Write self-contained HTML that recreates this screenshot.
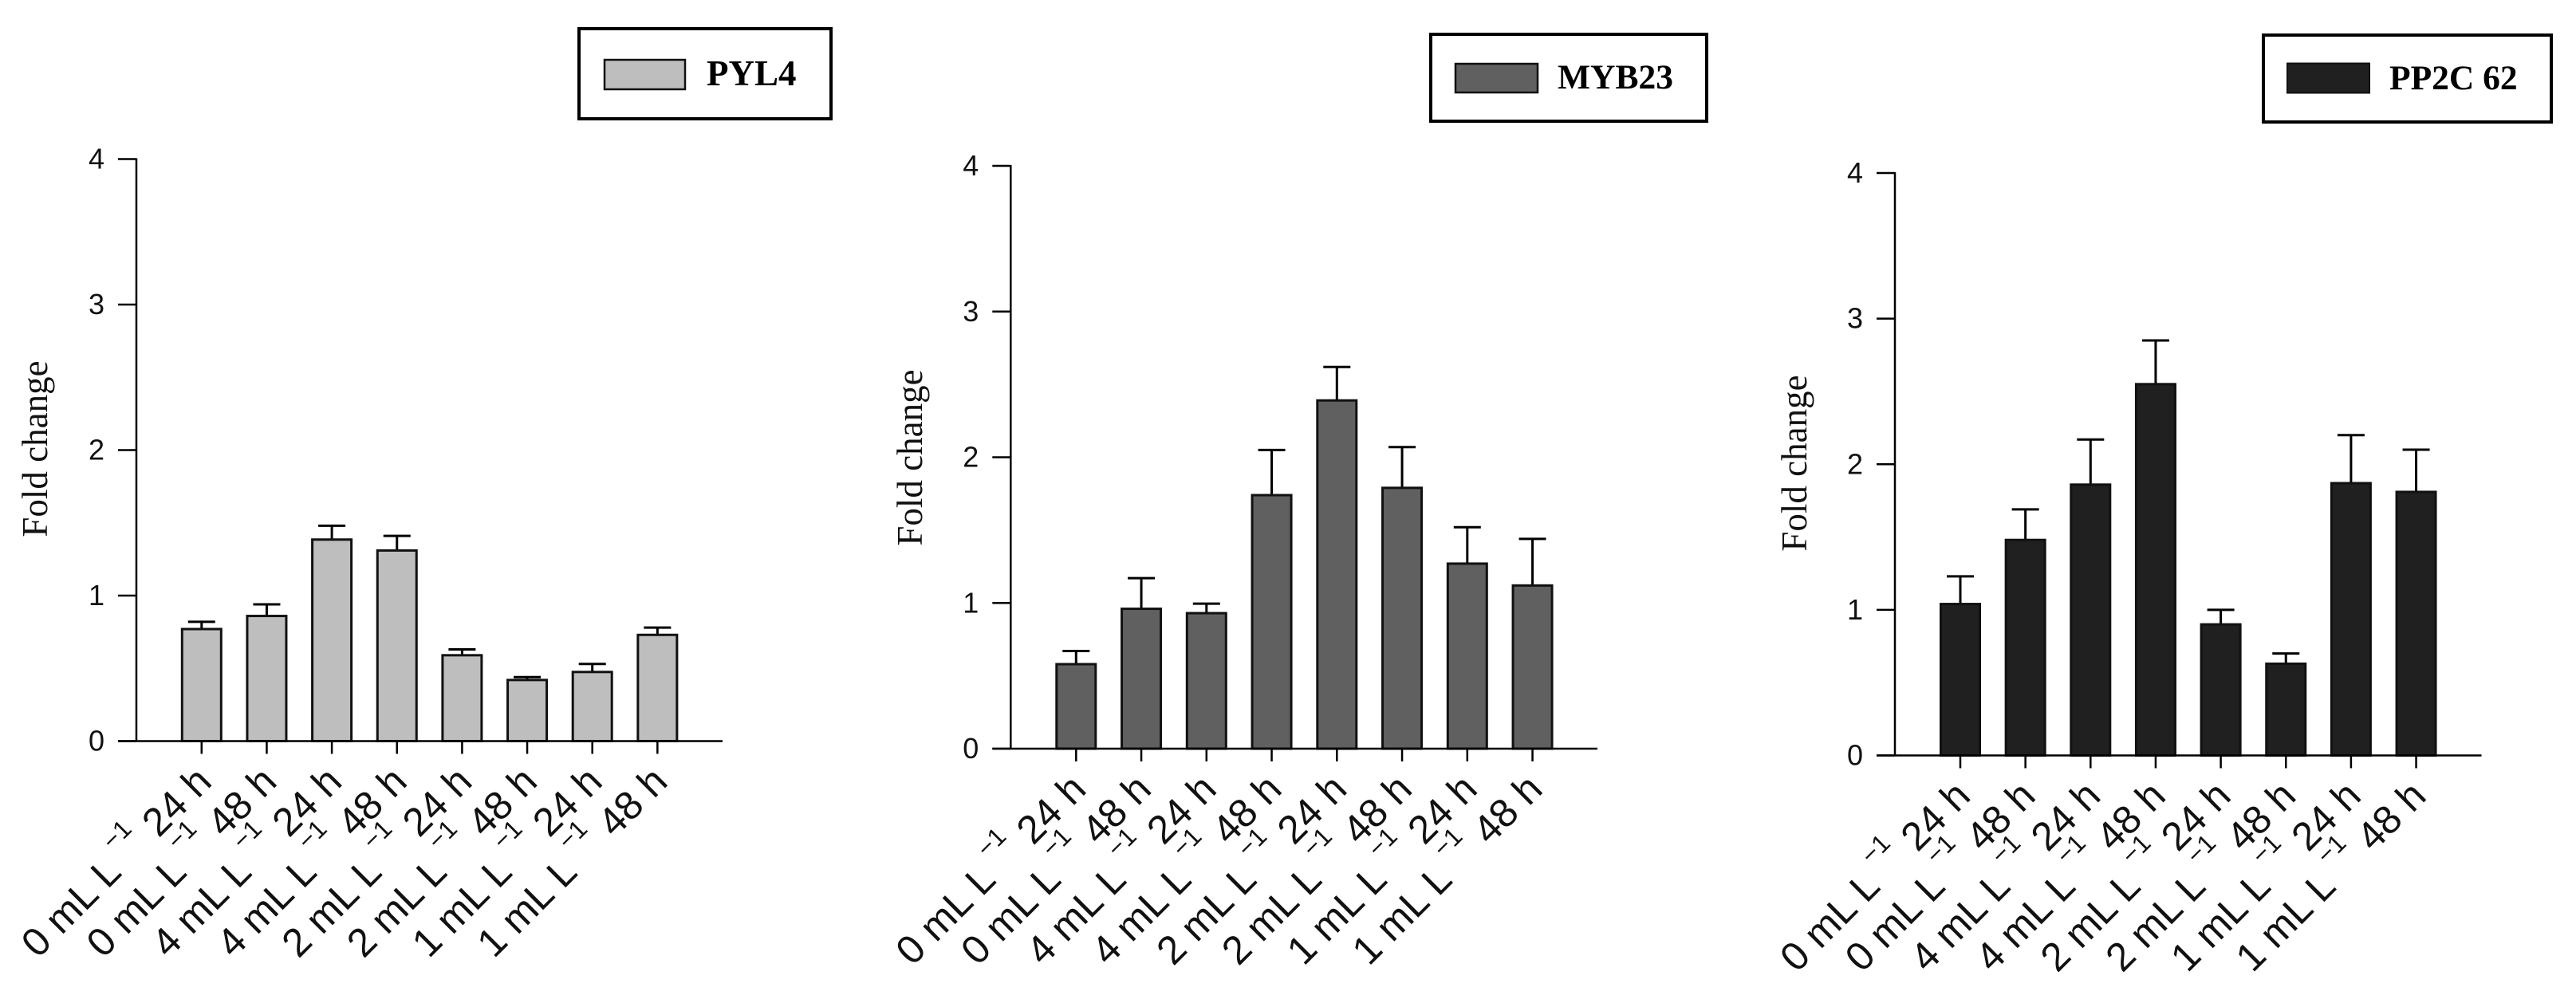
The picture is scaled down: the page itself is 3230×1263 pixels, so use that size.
<!DOCTYPE html>
<html lang="en">
<head>
<meta charset="utf-8">
<title>Fold change charts</title>
<style>
html,body{margin:0;padding:0;background:#fff;}
svg{display:block;}
.tick{font-family:"Liberation Sans",sans-serif;font-size:36px;fill:#111;}
.xl{font-family:"Liberation Sans",sans-serif;font-size:50px;fill:#111;}
.sup{font-size:32px;}
.yt{font-family:"Liberation Serif",serif;font-size:45px;fill:#111;}
.lg{font-family:"Liberation Serif",serif;font-weight:bold;font-size:43.5px;fill:#000;}
</style>
</head>
<body>
<svg id="chart" xmlns="http://www.w3.org/2000/svg" width="3230" height="1263" viewBox="0 0 3230 1263">
  <rect x="0" y="0" width="3230" height="1263" fill="#fff"/>

  <g>
    <rect x="726" y="36" width="316" height="113" fill="#fff" stroke="#000" stroke-width="4"/>
    <rect x="758" y="75" width="101" height="37" fill="#bebebe" stroke="#111" stroke-width="2.5"/>
    <text class="lg" x="886" y="107" style="font-size:45px">PYL4</text>
  </g>
  <g>
    <rect x="1794" y="43" width="346" height="109" fill="#fff" stroke="#000" stroke-width="4"/>
    <rect x="1825" y="80" width="103" height="36" fill="#606060" stroke="#111" stroke-width="2.5"/>
    <text class="lg" x="1953" y="111">MYB23</text>
  </g>
  <g>
    <rect x="2838" y="44" width="361" height="109" fill="#fff" stroke="#000" stroke-width="4"/>
    <rect x="2868" y="79.5" width="103" height="37" fill="#202020" stroke="#111" stroke-width="2"/>
    <text class="lg" x="2996" y="112">PP2C 62</text>
  </g>
  <g id="plots"></g>
</svg>
<script>
const doseLabels = ['0 mL L','0 mL L','4 mL L','4 mL L','2 mL L','2 mL L','1 mL L','1 mL L'];
const timeLabels = ['24 h','48 h','24 h','48 h','24 h','48 h','24 h','48 h'];
const yTickValues = [0,1,2,3,4];
const pyl4Values = [0.77,0.86,1.385,1.31,0.59,0.42,0.475,0.73];
const pyl4Upper = [0.82,0.94,1.48,1.41,0.63,0.44,0.53,0.78];
const myb23Values = [0.58,0.96,0.93,1.74,2.39,1.79,1.27,1.12];
const myb23Upper = [0.67,1.17,0.995,2.05,2.62,2.07,1.52,1.44];
const pp2c62Values = [1.04,1.48,1.86,2.55,0.90,0.63,1.87,1.81];
const pp2c62Upper = [1.23,1.69,2.17,2.85,1.00,0.70,2.20,2.10];

const NS = 'http://www.w3.org/2000/svg';
const root = document.getElementById('plots');
function mk(tag, parent) {
  const el = document.createElementNS(NS, tag);
  parent.appendChild(el);
  return el;
}
function seg(parent, x1, y1, x2, y2, w) {
  const l = mk('line', parent);
  l.setAttribute('x1', x1);
  l.setAttribute('y1', y1);
  l.setAttribute('x2', x2);
  l.setAttribute('y2', y2);
  l.setAttribute('stroke', '#000');
  l.setAttribute('stroke-width', w);
  return l;
}
function drawPanel(cfg, values, upper) {
  const g = mk('g', root);
  
  
  const yScale = v => cfg.y0 + (cfg.y4 - cfg.y0) * v / 4;
  const xScale = i => cfg.x0 + cfg.step * i;

  // error bars, behind the bars
  values.forEach((v, i) => {
    const x = xScale(i);
    const stem = seg(g, x, yScale(v), x, yScale(upper[i]), 3);
    
    
    const cap = seg(g, x - 17, yScale(upper[i]), x + 17, yScale(upper[i]), 3);
    
    
  });
  // bars
  values.forEach((v, i) => {
    const r = mk('rect', g);
    
    
    r.setAttribute('x', xScale(i) - 24.5);
    r.setAttribute('y', yScale(v));
    r.setAttribute('width', 49);
    r.setAttribute('height', cfg.y0 - yScale(v));
    r.setAttribute('fill', cfg.fill);
    r.setAttribute('stroke', '#111');
    r.setAttribute('stroke-width', 3);
  });
  // axes
  const yAxis = seg(g, cfg.axisX, cfg.y4 - 1, cfg.axisX, cfg.y0 + 1, 2.5);
  
  
  const xAxis = seg(g, cfg.axisX - 23, cfg.y0, cfg.xEnd, cfg.y0, 2.5);
  
  

  yTickValues.forEach(v => {
    const t = seg(g, cfg.axisX - 23, yScale(v), cfg.axisX, yScale(v), 2.5);
    
    
    const lb = mk('text', g);
    
    
    lb.setAttribute('class', 'tick');
    lb.setAttribute('text-anchor', 'end');
    lb.setAttribute('x', cfg.axisX - 40);
    lb.setAttribute('y', yScale(v) + 12);
    lb.textContent = String(v);
  });

  doseLabels.forEach((dose, i) => {
    const x = xScale(i);
    const t = seg(g, x, cfg.y0, x, cfg.y0 + 16, 2.5);
    
    
    const lb = mk('text', g);
    
    
    lb.setAttribute('class', 'xl');
    lb.setAttribute('transform', 'translate(' + (x + 15.5) + ' ' + (cfg.y0 + 53) + ') rotate(-45)');
    const a = mk('tspan', lb);
    a.setAttribute('x', -312);
    a.setAttribute('y', 0);
    a.textContent = dose;
    const b = mk('tspan', lb);
    b.setAttribute('class', 'sup');
    b.setAttribute('x', -150);
    b.setAttribute('y', -30);
    b.textContent = '\u22121';
    const c = mk('tspan', lb);
    c.setAttribute('x', -98);
    c.setAttribute('y', 0);
    c.textContent = timeLabels[i];
  });

  const yt = mk('text', g);
  
  
  yt.setAttribute('class', 'yt');
  yt.setAttribute('text-anchor', 'middle');
  yt.setAttribute('transform', 'translate(' + cfg.titleX + ' ' + cfg.titleY + ') rotate(-90)');
  yt.textContent = 'Fold change';
}
drawPanel({id:'pyl4', fill:'#bebebe', axisX:171, x0:252.8, step:81.65, xEnd:906, y0:929.5, y4:199.5, titleX:59, titleY:563}, pyl4Values, pyl4Upper);
drawPanel({id:'myb23', fill:'#606060', axisX:1267.3, x0:1349.3, step:81.75, xEnd:2003, y0:939, y4:208, titleX:1156, titleY:574}, myb23Values, myb23Upper);
drawPanel({id:'pp2c62', fill:'#202020', axisX:2376, x0:2458, step:81.65, xEnd:3111.5, y0:947.5, y4:217, titleX:2265, titleY:581}, pp2c62Values, pp2c62Upper);
</script>
</body>
</html>
